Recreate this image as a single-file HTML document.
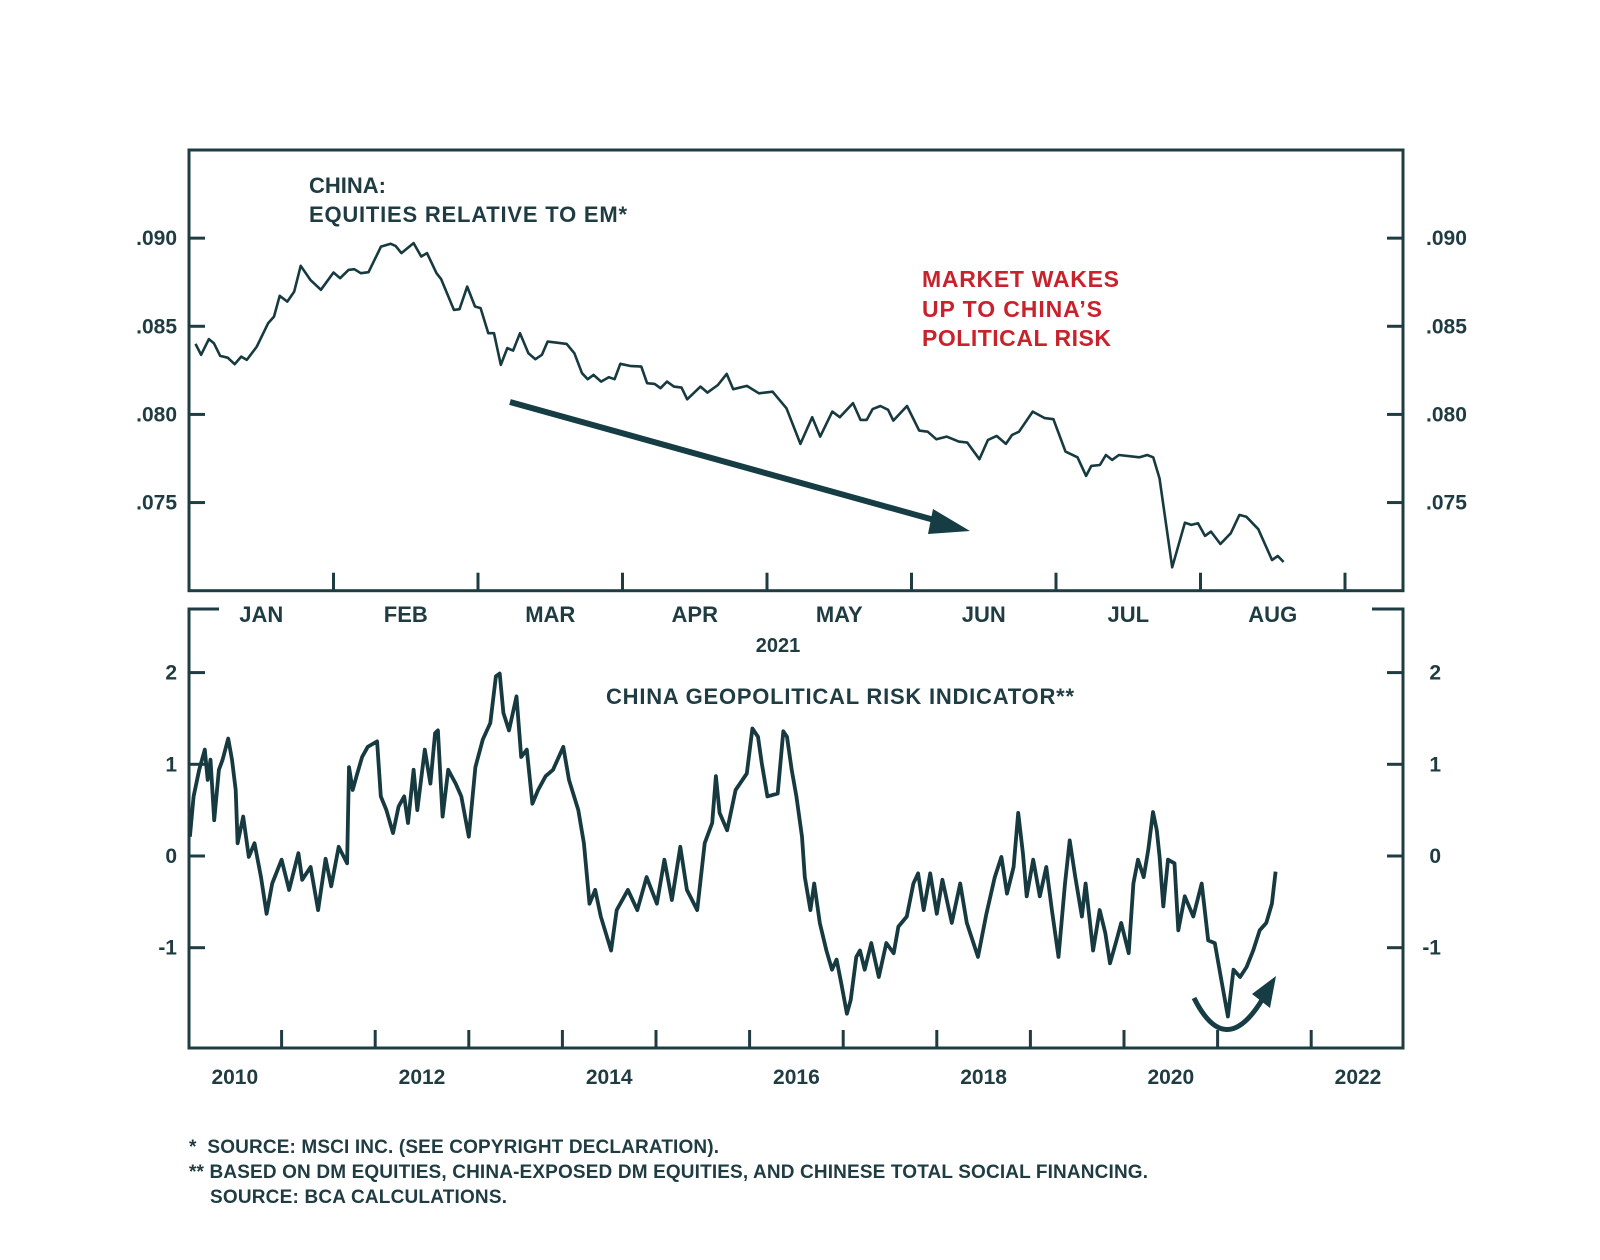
<!DOCTYPE html>
<html><head><meta charset="utf-8">
<style>
html,body{margin:0;padding:0;background:#fff;}
svg{display:block;font-family:"Liberation Sans",Arial,sans-serif;}
.t{fill:#1f3c42;font-weight:bold;}
</style></head>
<body>
<svg id="chart" width="1600" height="1260" viewBox="0 0 1600 1260">
<rect width="1600" height="1260" fill="#fff"/>
<g id="topPanel"></g>
<g id="botPanel"></g>
<text class="t" x="309" y="193" font-size="22">CHINA:</text>
<text class="t" x="309" y="222" font-size="22" textLength="318">EQUITIES RELATIVE TO EM*</text>
<g>
<text x="922" y="287" font-size="23" font-weight="bold" fill="#c8232c" textLength="197">MARKET WAKES</text>
<text x="922" y="317" font-size="23" font-weight="bold" fill="#c8232c" textLength="180">UP TO CHINA’S</text>
<text x="922" y="346" font-size="23" font-weight="bold" fill="#c8232c" textLength="189">POLITICAL RISK</text>
</g>
<text class="t" x="778" y="652" font-size="20" text-anchor="middle">2021</text>
<text class="t" x="606" y="704" font-size="22" textLength="468">CHINA GEOPOLITICAL RISK INDICATOR**</text>
<g>
<line x1="510" y1="402" x2="945" y2="523" stroke="#163d44" stroke-width="6"/>
<polygon points="970,531 933,509 928,534" fill="#163d44"/>
</g>
<g>
<path d="M1194,998 Q1225,1060 1262,1000" fill="none" stroke="#163d44" stroke-width="5"/>
<polygon points="1276,976 1252,994 1270,1008" fill="#163d44"/>
</g>
<g>
<text class="t" x="189" y="1153" font-size="19" textLength="530">*&#160;&#160;SOURCE: MSCI INC. (SEE COPYRIGHT DECLARATION).</text>
<text class="t" x="189" y="1178" font-size="19" textLength="959">** BASED ON DM EQUITIES, CHINA-EXPOSED DM EQUITIES, AND CHINESE TOTAL SOCIAL FINANCING.</text>
<text class="t" x="210" y="1203" font-size="19" textLength="297">SOURCE: BCA CALCULATIONS.</text>
</g>
</svg>
<script>
// ---- top panel data (months since Jan 1 2021, ratio) ----
const topMonths = [0.045,0.084,0.138,0.172,0.216,0.268,0.316,0.361,0.400,0.469,0.548,0.588,0.628,0.680,0.728,0.773,0.840,0.913,1.000,1.046,1.104,1.144,1.189,1.242,1.329,1.396,1.430,1.470,1.554,1.607,1.647,1.713,1.745,1.833,1.872,1.925,1.979,2.018,2.071,2.111,2.158,2.203,2.243,2.291,2.349,2.397,2.442,2.482,2.547,2.614,2.667,2.720,2.759,2.799,2.852,2.905,2.945,2.985,3.051,3.130,3.170,3.223,3.263,3.308,3.356,3.408,3.448,3.540,3.588,3.660,3.721,3.766,3.861,3.944,4.039,4.135,4.231,4.313,4.368,4.452,4.504,4.595,4.647,4.690,4.731,4.785,4.838,4.874,4.969,5.053,5.112,5.172,5.243,5.327,5.386,5.470,5.529,5.589,5.653,5.696,5.744,5.839,5.922,5.982,6.066,6.149,6.208,6.244,6.304,6.345,6.388,6.435,6.578,6.631,6.673,6.716,6.804,6.892,6.936,6.983,7.031,7.073,7.138,7.210,7.269,7.317,7.400,7.495,7.535,7.575];
const topValues = [.0840,.08338,.08427,.08404,.08332,.08322,.08285,.08328,.08309,.08385,.08518,.08555,.08673,.08640,.08697,.08843,.08763,.08707,.08805,.08773,.08820,.08824,.08801,.08807,.08952,.08968,.08956,.08915,.08972,.08896,.08915,.08801,.08767,.08593,.08597,.08725,.08612,.08603,.08461,.08461,.08281,.08376,.08362,.08461,.08347,.08313,.08338,.08413,.08407,.08400,.08347,.08234,.08200,.08224,.08186,.08211,.08200,.08287,.08275,.08271,.08177,.08173,.08149,.08186,.08158,.08152,.08086,.08158,.08124,.08167,.08230,.08143,.08162,.08120,.08129,.08035,.07833,.07984,.07874,.08016,.07984,.08064,.07969,.07969,.08030,.08048,.08026,.07965,.08048,.07908,.07902,.07859,.07874,.07846,.07840,.07746,.07855,.07878,.07833,.07884,.07902,.08016,.07979,.07973,.07789,.07757,.07651,.07708,.07713,.07770,.07742,.07770,.07757,.07770,.07757,.07638,.07133,.07386,.07373,.07383,.07311,.07335,.07265,.07326,.07430,.07420,.07349,.07174,.07197,.07163];
const topTicks = [.090,.085,.080,.075];
const topTickLabels = [".090",".085",".080",".075"];
const monthLabels = ["JAN","FEB","MAR","APR","MAY","JUN","JUL","AUG"];
// ---- bottom panel data (year, indicator) ----
const riskYears = [2010.02,2010.06,2010.12,2010.18,2010.21,2010.24,2010.28,2010.33,2010.37,2010.43,2010.47,2010.51,2010.53,2010.59,2010.65,2010.71,2010.78,2010.84,2010.90,2011.00,2011.08,2011.18,2011.22,2011.31,2011.39,2011.47,2011.53,2011.61,2011.70,2011.72,2011.76,2011.80,2011.86,2011.92,2012.02,2012.06,2012.12,2012.19,2012.25,2012.31,2012.35,2012.41,2012.45,2012.53,2012.59,2012.64,2012.67,2012.72,2012.78,2012.86,2012.92,2013.00,2013.07,2013.15,2013.23,2013.29,2013.33,2013.37,2013.43,2013.51,2013.56,2013.62,2013.68,2013.74,2013.82,2013.90,2014.01,2014.07,2014.17,2014.23,2014.29,2014.35,2014.41,2014.52,2014.58,2014.70,2014.80,2014.90,2015.01,2015.09,2015.17,2015.26,2015.33,2015.44,2015.52,2015.60,2015.64,2015.68,2015.76,2015.85,2015.97,2016.03,2016.09,2016.13,2016.19,2016.30,2016.36,2016.40,2016.45,2016.50,2016.56,2016.59,2016.65,2016.69,2016.75,2016.82,2016.88,2016.93,2016.98,2017.04,2017.08,2017.14,2017.18,2017.23,2017.30,2017.38,2017.46,2017.54,2017.59,2017.68,2017.75,2017.80,2017.86,2017.93,2018.00,2018.06,2018.16,2018.25,2018.32,2018.44,2018.53,2018.62,2018.69,2018.75,2018.82,2018.87,2018.92,2018.96,2019.03,2019.10,2019.17,2019.23,2019.30,2019.37,2019.42,2019.48,2019.55,2019.59,2019.67,2019.74,2019.80,2019.85,2019.92,2019.97,2020.05,2020.10,2020.15,2020.21,2020.26,2020.31,2020.35,2020.38,2020.42,2020.47,2020.54,2020.58,2020.65,2020.74,2020.83,2020.90,2020.97,2021.04,2021.11,2021.17,2021.24,2021.31,2021.38,2021.45,2021.52,2021.58,2021.62];
const riskValues = [.21,.65,.94,1.16,.83,1.05,.39,.94,1.05,1.28,1.05,.72,.14,.43,-.01,.14,-.23,-.63,-.30,-.04,-.37,.03,-.26,-.12,-.59,-.03,-.33,.10,-.08,.97,.72,.87,1.08,1.19,1.25,.65,.50,.25,.54,.65,.36,.94,.50,1.16,.79,1.34,1.37,.43,.94,.79,.65,.21,.97,1.27,1.45,1.96,1.99,1.56,1.37,1.74,1.08,1.16,.57,.72,.87,.94,1.19,.83,.50,.14,-.52,-.37,-.66,-1.03,-.59,-.37,-.59,-.23,-.52,-.04,-.48,.10,-.37,-.59,.14,.36,.87,.47,.28,.72,.90,1.39,1.30,1.01,.65,.68,1.36,1.30,.94,.65,.21,-.23,-.59,-.30,-.73,-1.03,-1.24,-1.13,-1.39,-1.72,-1.57,-1.10,-1.03,-1.24,-.95,-1.32,-.95,-1.06,-.77,-.66,-.30,-.19,-.59,-.19,-.63,-.26,-.73,-.30,-.73,-1.10,-.63,-.23,-.01,-.41,-.12,.47,.03,-.44,-.04,-.44,-.12,-.59,-1.10,-.30,.17,-.23,-.66,-.30,-1.03,-.59,-.84,-1.17,-.92,-.73,-1.06,-.30,-.04,-.23,.07,.48,.28,-.01,-.55,-.04,-.08,-.81,-.44,-.66,-.30,-.92,-.95,-1.35,-1.75,-1.24,-1.32,-1.21,-1.03,-.81,-.73,-.52,-.17];
const riskTicks = [2,1,0,-1];
const riskTickLabels = ["2","1","0","-1"];
const yearLabels = ["2010","2012","2014","2016","2018","2020","2022"];

const NS = "http://www.w3.org/2000/svg";
const C = "#1f3c42";
function mk(parent, tag, attrs){const e=document.createElementNS(NS,tag);for(const k in attrs)e.setAttribute(k,attrs[k]);parent.appendChild(e);return e;}

// top axes
const TL=189,TR=1403,TT=150,TB=590.7;
const topX = m => TL + m*144.5;
const topY = v => TT + (0.095 - v)/0.025*(TB-TT);
const topG = document.getElementById('topPanel');
const frame = mk(topG,'rect',{x:TL,y:TT,width:TR-TL,height:TB-TT,fill:'none',stroke:C,'stroke-width':3});


topTicks.forEach((v,i)=>{
  const y=topY(v);
  const l1=mk(topG,'line',{x1:TL,x2:TL+16,y1:y,y2:y,stroke:C,'stroke-width':3});
  
  
  const l2=mk(topG,'line',{x1:TR-16,x2:TR,y1:y,y2:y,stroke:C,'stroke-width':3});
  
  
  const a=mk(topG,'text',{x:177,y:y+7,'font-size':21,'text-anchor':'end',class:'t'});a.textContent=topTickLabels[i];
  
  
  const b=mk(topG,'text',{x:1426,y:y+7,'font-size':21,class:'t'});b.textContent=topTickLabels[i];
  
  
});
for(let m=1;m<=8;m++){
  const x=topX(m);
  const t=mk(topG,'line',{x1:x,x2:x,y1:TB-18,y2:TB,stroke:C,'stroke-width':3});
  
  
}
monthLabels.forEach((s,i)=>{
  const t=mk(topG,'text',{x:topX(i+0.5),y:622,'font-size':22,'text-anchor':'middle',class:'t'});t.textContent=s;
  
  
});
let d='';
topMonths.forEach((m,i)=>{d+=(i?'L':'M')+topX(m).toFixed(1)+','+topY(topValues[i]).toFixed(1);});
const tl=mk(topG,'path',{d:d,fill:'none',stroke:'#173a40','stroke-width':2.6,'stroke-linejoin':'round'});



// bottom axes
const BL=189,BR=1403,BT=609,BB=1048;
const botX = yr => 188 + (yr-2010)*93.6;
const botY = v => 856 - v*91.7;
const botG = document.getElementById('botPanel');
const bf=mk(botG,'path',{d:`M219,${BT}H${BL}V${BB}H${BR}V${BT}H1372`,fill:'none',stroke:C,'stroke-width':3});


riskTicks.forEach((v,i)=>{
  const y=botY(v);
  const l1=mk(botG,'line',{x1:BL,x2:BL+16,y1:y,y2:y,stroke:C,'stroke-width':3});
  
  
  const l2=mk(botG,'line',{x1:BR-16,x2:BR,y1:y,y2:y,stroke:C,'stroke-width':3});
  
  
  const a=mk(botG,'text',{x:177,y:y+7,'font-size':21,'text-anchor':'end',class:'t'});a.textContent=riskTickLabels[i];
  
  
  const b=mk(botG,'text',{x:1441,y:y+7,'font-size':21,'text-anchor':'end',class:'t'});b.textContent=riskTickLabels[i];
  
  
});
for(let y=2011;y<=2022;y++){
  const x=botX(y);
  const t=mk(botG,'line',{x1:x,x2:x,y1:BB-18,y2:BB,stroke:C,'stroke-width':3});
  
  
}
yearLabels.forEach(s=>{
  const t=mk(botG,'text',{x:botX(+s+0.5),y:1084,'font-size':21,'text-anchor':'middle',class:'t'});t.textContent=s;
  
  
});
let d2='';
riskYears.forEach((yr,i)=>{d2+=(i?'L':'M')+botX(yr).toFixed(1)+','+botY(riskValues[i]).toFixed(1);});
const bl=mk(botG,'path',{d:d2,fill:'none',stroke:'#173a40','stroke-width':3.8,'stroke-linejoin':'round'});


</script>
</body></html>
